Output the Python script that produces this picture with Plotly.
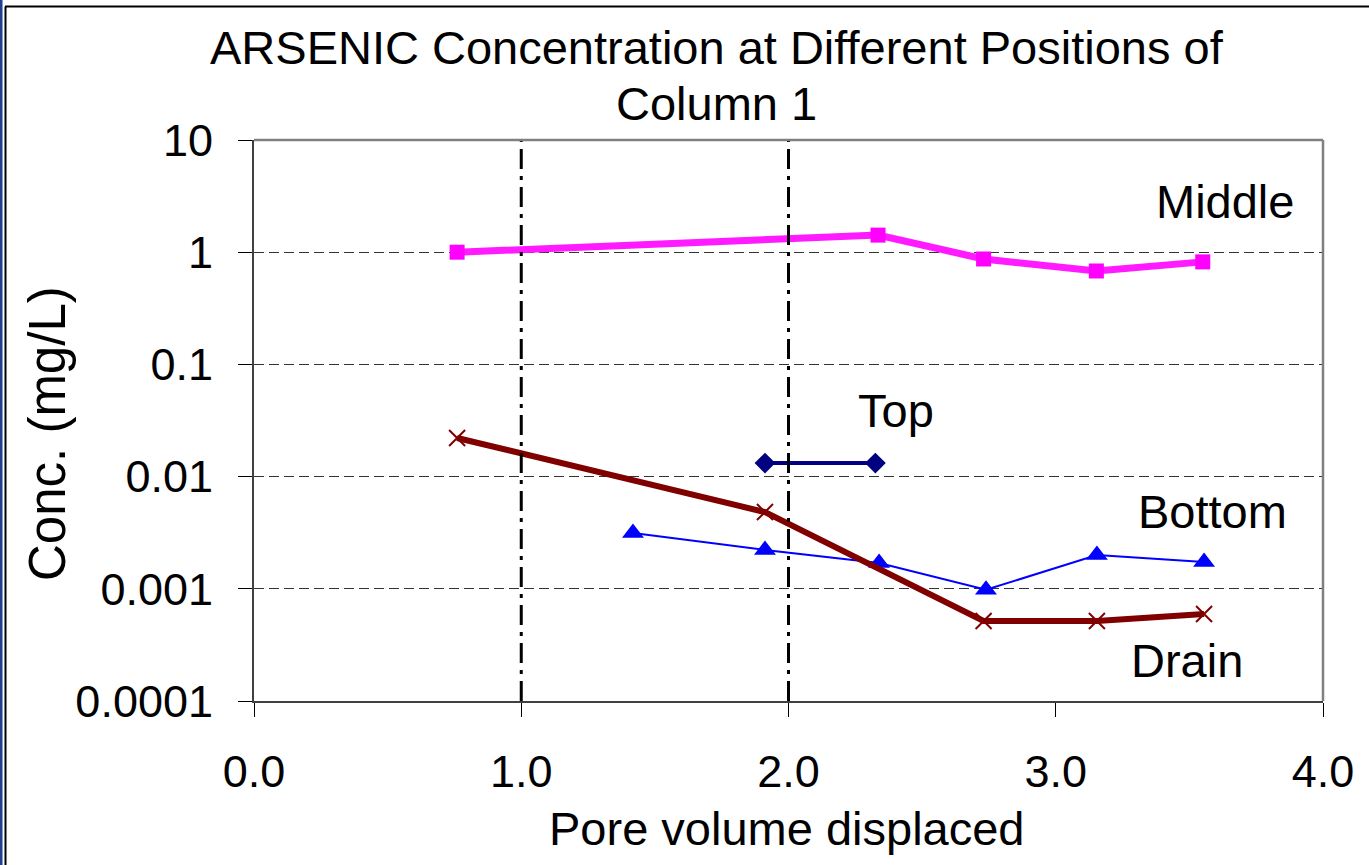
import plotly.graph_objects as go

# ---- data ----
middle_x = [0.76, 2.335, 2.73, 3.152, 3.55]
middle_y = [1.0, 1.42, 0.87, 0.68, 0.82]

top_x = [1.912, 2.325]
top_y = [0.0132, 0.0132]

bottom_x = [1.418, 1.912, 2.339, 2.739, 3.154, 3.555]
bottom_y = [0.00314, 0.00222, 0.0017, 0.00098, 0.0020, 0.00173]

drain_x = [0.76, 1.912, 2.73, 3.154, 3.555]
drain_y = [0.0221, 0.00483, 0.000516, 0.000516, 0.000596]

x_ticks = [0.0, 1.0, 2.0, 3.0, 4.0]
x_tick_text = ["0.0", "1.0", "2.0", "3.0", "4.0"]
y_ticks = [0.0001, 0.001, 0.01, 0.1, 1, 10]
y_tick_text = ["0.0001", "0.001", "0.01", "0.1", "1", "10"]
phase_lines = [1.0, 2.0]

FONT = "Liberation Sans, Arial, sans-serif"
W, H = 1369, 865
ML, MR, MT, MB = 254, 46, 140, 164
PW, PH = W - ML - MR, H - MT - MB


def px_x(p):
    return (p - ML) / PW


def px_y(p):
    return (H - MB - p) / PH


fig = go.Figure()

fig.add_trace(go.Scatter(
    x=middle_x, y=middle_y, mode="lines+markers", name="Middle",
    line=dict(color="#FF1AFF", width=7),
    marker=dict(symbol="square", size=15, color="#FF00FF"),
))
fig.add_trace(go.Scatter(
    x=top_x, y=top_y, mode="lines+markers", name="Top",
    line=dict(color="#000080", width=4),
    marker=dict(symbol="diamond", size=16, color="#000080"),
))
fig.add_trace(go.Scatter(
    x=bottom_x, y=bottom_y, mode="lines+markers", name="Bottom",
    line=dict(color="#0000FF", width=2),
    marker=dict(symbol="triangle-up", size=19, color="#0000FF"),
))
fig.add_trace(go.Scatter(
    x=drain_x, y=drain_y, mode="lines+markers", name="Drain",
    line=dict(color="#800000", width=6),
    marker=dict(symbol="x-thin", size=16, color="#800000",
                line=dict(color="#800000", width=2)),
))

shapes = []
for xv in phase_lines:
    shapes.append(dict(type="line", xref="x", yref="paper", x0=xv, x1=xv, y0=0, y1=1,
                       line=dict(color="black", width=3, dash="20px,7px,4px,7px"), layer="above"))
# plot-area border top & right (gray)
shapes.append(dict(type="line", xref="paper", yref="paper", x0=0, x1=1, y0=1, y1=1,
                   line=dict(color="#808080", width=2.5), layer="above"))
shapes.append(dict(type="line", xref="paper", yref="paper", x0=1, x1=1, y0=0, y1=1,
                   line=dict(color="#808080", width=2.5), layer="above"))
# outer frame: blue band at left, black lines at left and top
shapes.append(dict(type="rect", xref="paper", yref="paper", x0=px_x(0), x1=px_x(2.5),
                   y0=px_y(H), y1=px_y(0), line=dict(width=0), fillcolor="#1F3F8F", layer="above"))
shapes.append(dict(type="line", xref="paper", yref="paper", x0=px_x(5.5), x1=px_x(5.5),
                   y0=px_y(H), y1=px_y(6.5), line=dict(color="black", width=2), layer="above"))
shapes.append(dict(type="line", xref="paper", yref="paper", x0=px_x(5), x1=px_x(W),
                   y0=px_y(6.5), y1=px_y(6.5), line=dict(color="black", width=2), layer="above"))

ann_font = dict(family=FONT, size=47, color="black")
annotations = [
    dict(text="ARSENIC Concentration at Different Positions of", xref="paper", yref="paper",
         x=px_x(717), y=px_y(48), showarrow=False, font=ann_font, xanchor="center", yanchor="middle"),
    dict(text="Column 1", xref="paper", yref="paper",
         x=px_x(716), y=px_y(104), showarrow=False, font=ann_font, xanchor="center", yanchor="middle"),
    dict(text="Pore volume displaced", xref="paper", yref="paper",
         x=px_x(787), y=px_y(829), showarrow=False, font=ann_font, xanchor="center", yanchor="middle"),
    dict(text="Conc. (mg/L)", xref="paper", yref="paper", textangle=-90,
         x=px_x(47), y=px_y(434), showarrow=False, font=dict(family=FONT, size=51, color="black"),
         xanchor="center", yanchor="middle"),
    dict(text="Middle", x=3.633, y=0.456, xref="x", yref="y", showarrow=False, font=ann_font),
    dict(text="Top", x=2.402, y=-1.415, xref="x", yref="y", showarrow=False, font=ann_font),
    dict(text="Bottom", x=3.585, y=-2.307, xref="x", yref="y", showarrow=False, font=ann_font),
    dict(text="Drain", x=3.491, y=-3.635, xref="x", yref="y", showarrow=False, font=ann_font),
]

fig.update_layout(
    width=W, height=H,
    margin=dict(l=ML, r=MR, t=MT, b=MB, pad=0),
    paper_bgcolor="white", plot_bgcolor="white",
    showlegend=False,
    font=dict(family=FONT, size=45, color="black"),
    shapes=shapes,
    annotations=annotations,
)

fig.update_xaxes(
    range=[0, 4], tickvals=x_ticks, ticktext=x_tick_text,
    showgrid=False, zeroline=False,
    showline=True, linecolor="#404040", linewidth=2,
    ticks="outside", ticklen=14, tickcolor="black", tickwidth=1,
    ticklabelstandoff=16,
    tickfont=dict(family=FONT, size=45, color="black"),
)
fig.update_yaxes(
    type="log", range=[-4, 1], tickvals=y_ticks, ticktext=y_tick_text,
    showgrid=True, gridcolor="#333333", gridwidth=1, griddash="10px,5px",
    zeroline=False,
    showline=True, linecolor="#404040", linewidth=2,
    ticks="outside", ticklen=14, tickcolor="black", tickwidth=1,
    ticklabelstandoff=16,
    tickfont=dict(family=FONT, size=45, color="black"),
)

fig.write_html("out.html")
